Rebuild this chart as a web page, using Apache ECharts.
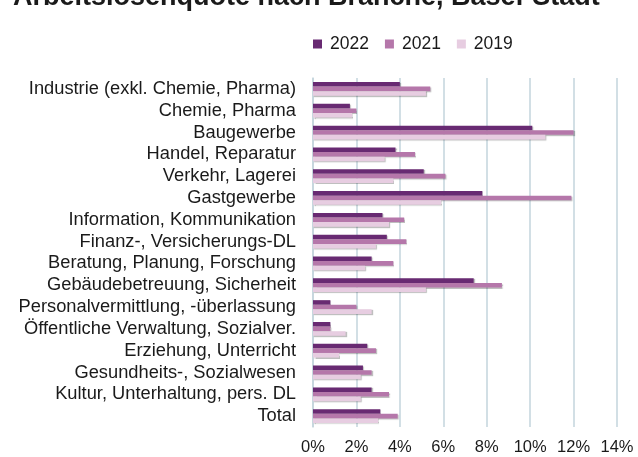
<!DOCTYPE html>
<html>
<head>
<meta charset="utf-8">
<script src="https://cdn.jsdelivr.net/npm/echarts@6/dist/echarts.min.js"></script>
<style>
  html, body { margin: 0; padding: 0; background: #fff; }
  #chart { width: 638px; height: 457px; }
</style>
</head>
<body>
<div id="chart"></div>
<script>
// Branchen (von oben nach unten)
const categories = [
    'Industrie (exkl. Chemie, Pharma)',
    'Chemie, Pharma',
    'Baugewerbe',
    'Handel, Reparatur',
    'Verkehr, Lagerei',
    'Gastgewerbe',
    'Information, Kommunikation',
    'Finanz-, Versicherungs-DL',
    'Beratung, Planung, Forschung',
    'Gebäudebetreuung, Sicherheit',
    'Personalvermittlung, -überlassung',
    'Öffentliche Verwaltung, Sozialver.',
    'Erziehung, Unterricht',
    'Gesundheits-, Sozialwesen',
    'Kultur, Unterhaltung, pers. DL',
    'Total'
];

const values2022 = [4.0, 1.7, 10.1, 3.8, 5.1, 7.8, 3.2, 3.4, 2.7, 7.4, 0.8, 0.8, 2.5, 2.3, 2.7, 3.1];
const values2021 = [5.4, 2.0, 12.0, 4.7, 6.1, 11.9, 4.2, 4.3, 3.7, 8.7, 2.0, 0.8, 2.9, 2.7, 3.5, 3.9];
const values2019 = [5.2, 1.8, 10.7, 3.3, 3.7, 5.9, 3.5, 2.9, 2.4, 5.2, 2.7, 1.5, 1.2, 2.2, 2.2, 3.0];

const xTicks = [0, 2, 4, 6, 8, 10, 12, 14];

const FONT = 'Liberation Sans, Arial, sans-serif';

const dom = echarts.init(document.getElementById('chart'));

const makeSeries = (name, data, color) => {
    return {
        name: name,
        type: 'bar',
        data: data,
        barGap: '0%',
        barCategoryGap: '37%',
        itemStyle: {
            color: color,
            shadowColor: 'rgba(0,0,0,0.25)',
            shadowBlur: 1,
            shadowOffsetX: 1,
            shadowOffsetY: 1
        }
    };
}

const option = {
    animation: false,
    textStyle: { fontFamily: FONT },
    title: {
        text: 'Arbeitslosenquote nach Branche, Basel-Stadt',
        left: 8,
        top: -21,
        textStyle: { fontSize: 27, fontWeight: 'bold', color: '#1a1a1a', fontFamily: FONT }
    },
    legend: {
        data: ['2022', '2021', '2019'],
        left: 308,
        top: 30,
        icon: 'rect',
        itemWidth: 9,
        itemHeight: 9,
        itemGap: 16,
        textStyle: { fontSize: 17.5, color: '#1a1a1a', fontFamily: FONT, padding: [0, 0, 0, 3] }
    },
    grid: { left: 313, right: 21, top: 78, bottom: 30, containLabel: false },
    xAxis: {
        type: 'value',
        min: 0,
        max: xTicks[xTicks.length - 1],
        interval: 2,
        axisLine: { show: false },
        axisTick: { show: false },
        splitLine: { lineStyle: { color: '#c3d5dc', width: 1.5 } },
        axisLabel: {
            formatter: (v) => v + '%',
            fontSize: 16.5,
            color: '#1a1a1a',
            margin: 12
        }
    },
    yAxis: {
        type: 'category',
        data: categories,
        inverse: true,
        axisLine: { show: true, lineStyle: { color: '#c3d5dc', width: 1.5 } },
        axisTick: { show: false },
        axisLabel: { fontSize: 18.3, color: '#1a1a1a', margin: 17, interval: 0 }
    },
    series: [
        makeSeries('2022', values2022, '#682a72'),
        makeSeries('2021', values2021, '#b577aa'),
        makeSeries('2019', values2019, '#e7cde1')
    ]
};

dom.setOption(option);
</script>
</body>
</html>
